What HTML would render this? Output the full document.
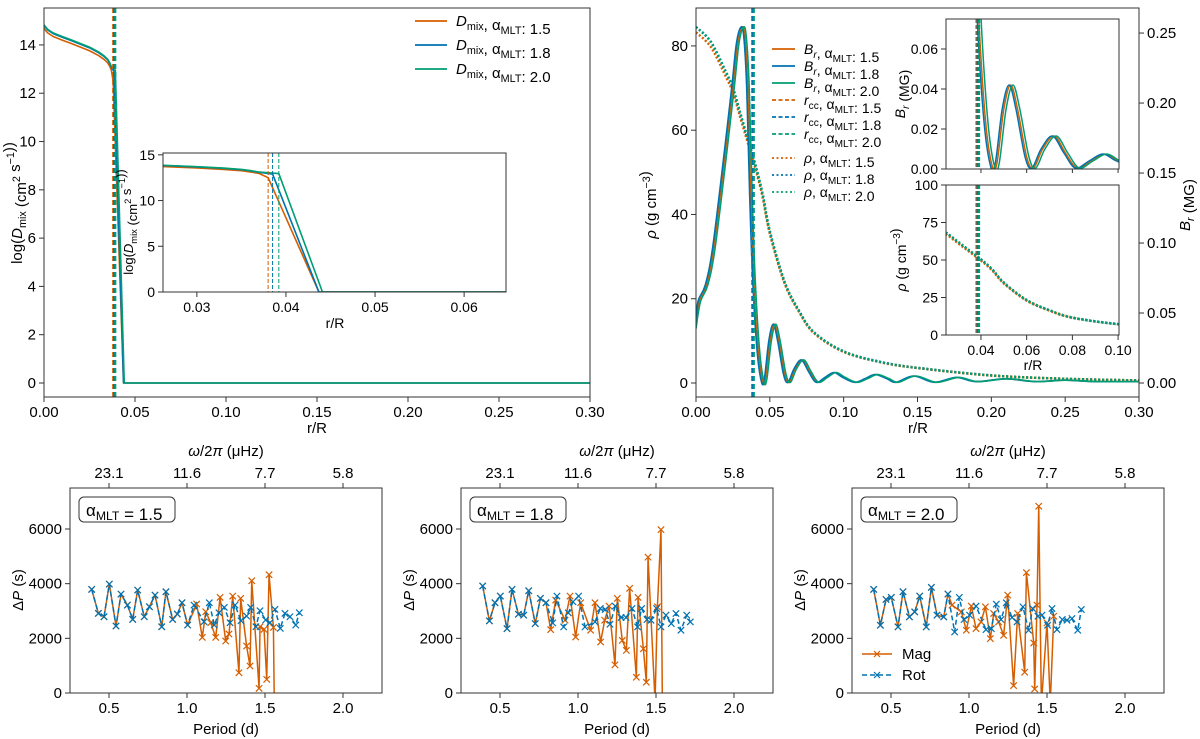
<!DOCTYPE html>
<html><head><meta charset="utf-8">
<style>
html,body{margin:0;padding:0;background:#fff;}
svg{display:block;font-family:"Liberation Sans","DejaVu Sans",sans-serif;}
</style></head>
<body>
<svg id="fig" width="1200" height="739" viewBox="0 0 1200 739" xmlns="http://www.w3.org/2000/svg">
<defs id="defs"></defs>
</svg>
<script>
// ---------- DATA ----------
const modelAlphas = ["1.5","1.8","2.0"];
const rccValues = [0.0380, 0.0385, 0.0392];
// D_mix profiles
const dmixR = [0,0.002,0.005,0.01,0.015,0.02,0.025,0.03,0.033,0.035,0.036,0.037];
const dmixBase = [14.8,14.62,14.47,14.32,14.18,14.03,13.88,13.68,13.52,13.38,13.25,13.08];
const dmixOffset = [-0.12,0.0,0.03];
const dmixKneeVal = [12.5,12.9,12.95];
const dmixZeroR = [0.0437,0.0437,0.0441];
// B_r profile (MG)
const brR = [0,0.002,0.007,0.012,0.02,0.025,0.028,0.031,0.033,0.035,0.037,0.039,0.042,0.045,0.047,0.050,0.053,0.056,0.060,0.063,0.067,0.072,0.077,0.082,0.088,0.094,0.100,0.108,0.115,0.122,0.130,0.136,0.148,0.162,0.177,0.19,0.21,0.23,0.25,0.27,0.3];
const brVal = [0.039,0.058,0.070,0.097,0.166,0.212,0.242,0.254,0.248,0.212,0.136,0.076,0.024,0.001,0.003,0.030,0.042,0.030,0.006,0.0005,0.010,0.0165,0.008,0.0005,0.004,0.0075,0.004,0.0005,0.003,0.006,0.003,0.0005,0.005,0.0005,0.004,0.001,0.003,0.001,0.002,0.001,0.001];
const brShift = [0.0,-0.0007,0.0010];
// density profile (g cm^-3)
const rhoR = [0,0.01,0.02,0.025,0.03,0.035,0.04,0.045,0.05,0.06,0.07,0.08,0.1,0.125,0.15,0.2,0.25,0.3];
const rhoVal = [84.5,81,74,70,64,58,52,45,36,24,17,12,7.5,5,3.6,1.8,1,0.6];
const rhoScale = [0.985,1.0,1.0];
// period spacings
const rotPeriod = [0.389,0.432,0.468,0.502,0.545,0.577,0.618,0.652,0.684,0.726,0.759,0.795,0.838,0.865,0.908,0.938,0.968,1.004,1.045,1.109,1.143,1.175,1.205,1.239,1.276,1.308,1.346,1.382,1.408,1.442,1.468,1.504,1.532,1.564,1.598,1.628,1.660,1.697,1.720];
const rotDP15 = [3790,2913,2791,3985,2450,3619,3217,2693,3766,2791,3156,3583,2425,3705,2693,2888,3302,2486,3217,2608,3302,2486,2937,3132,2571,3217,2644,2815,3132,2425,3010,2669,2571,3059,2364,2913,2791,2486,2937];
const rotDP18 = [3914,2638,3301,3546,2356,3791,2883,2847,3742,2540,3460,3301,2564,3546,2417,2932,3337,3546,2417,2601,3092,3055,2515,3178,2761,2761,3092,2417,3092,2687,2663,3092,2417,2847,2540,2908,2295,2847,2601];
const rotDP20 = [3791,2479,3423,3497,2417,3706,2785,2969,3546,2417,3865,2847,2785,3620,2233,3497,2687,2847,3178,2319,2356,3252,2687,3301,2761,2601,3153,2295,3092,2810,2847,2479,3092,2319,2687,2663,2724,2295,3055];
const magPeriod15 = [0.389,0.432,0.468,0.502,0.545,0.577,0.618,0.652,0.684,0.726,0.759,0.795,0.838,0.865,0.908,0.938,0.968,1.004,1.062,1.098,1.120,1.152,1.184,1.212,1.248,1.269,1.293,1.333,1.344,1.382,1.404,1.415,1.462,1.468,1.494,1.511,1.526,1.554,1.560];
const magDP15 = [3790,2913,2791,3985,2450,3619,3217,2693,3766,2791,3156,3583,2425,3705,2693,2888,3302,2486,3254,2035,2973,2571,2035,3498,1901,2157,3546,743,3461,1718,987,4107,171,2425,2328,500,4327,2400,-600];
const magPeriod18 = [0.389,0.432,0.468,0.502,0.545,0.577,0.618,0.652,0.684,0.726,0.759,0.795,0.825,0.857,0.917,0.949,0.985,1.017,1.081,1.109,1.145,1.171,1.199,1.237,1.252,1.284,1.310,1.331,1.374,1.385,1.419,1.438,1.449,1.494,1.509,1.532,1.541];
const magDP18 = [3914,2638,3301,3546,2356,3791,2883,2847,3742,2540,3460,3301,2319,3399,2663,3546,2049,3301,2295,3301,1865,2663,3178,1031,3460,1926,1558,3828,577,3497,1620,393,4969,-300,3154,5975,-600];
const magPeriod20 = [0.389,0.432,0.468,0.502,0.545,0.577,0.618,0.652,0.684,0.726,0.759,0.795,0.838,0.865,0.891,0.951,0.983,1.015,1.045,1.077,1.105,1.137,1.158,1.190,1.222,1.248,1.286,1.312,1.357,1.368,1.415,1.421,1.436,1.447,1.464,1.500,1.521,1.543];
const magDP20 = [3791,2479,3423,3497,2417,3706,2785,2969,3546,2417,3865,2847,2785,3620,3215,2969,2295,3178,2356,2601,3153,1988,2908,2601,2110,3583,270,2908,761,4405,1828,147,3215,6834,-400,2564,-400,2810];
const periodTicks = [0.5,1.0,1.5,2.0];
const freqTickLabels = ["23.1","11.6","7.7","5.8"];
const dpTicks = [0,2000,4000,6000];
const rTicks = [0,0.05,0.10,0.15,0.20,0.25,0.30];
const dmixTicks = [0,2,4,6,8,10,12,14];
const rhoTicks = [0,20,40,60,80];
const brTicks = [0,0.05,0.10,0.15,0.20,0.25];

const COLORS = ["#d55e00","#0072b2","#009e73"];
// ---------- HELPERS ----------
const NS = "http://www.w3.org/2000/svg";
const svg = document.getElementById("fig");
const defs = document.getElementById("defs");
let clipN = 0;
function el(tag, attrs, parent){
  const e = document.createElementNS(NS, tag);
  for (const k in attrs) e.setAttribute(k, attrs[k]);
  (parent || svg).appendChild(e);
  return e;
}
function axes(name, x0, x1, y0, y1, xlim, ylim){
  const g = el("g", {});
  
  
  clipN++;
  const cp = el("clipPath", {id: "c"+clipN}, defs);
  el("rect", {x:x0, y:y0, width:x1-x0, height:y1-y0}, cp);
  const plot = el("g", {"clip-path": "url(#c"+clipN+")"}, g);
  const X = v => x0 + (v - xlim[0]) / (xlim[1]-xlim[0]) * (x1-x0);
  const Y = v => y1 - (v - ylim[0]) / (ylim[1]-ylim[0]) * (y1-y0);
  return {g, plot, X, Y, x0, x1, y0, y1};
}
function frame(a){
  const f = el("rect", {x:a.x0, y:a.y0, width:a.x1-a.x0, height:a.y1-a.y0, fill:"none", stroke:"#333", "stroke-width":1}, a.g);
  
  
}
function txt(parent, x, y, s, size, anchor, rot){
  const t = el("text", {x:x, y:y, "font-size":size, "text-anchor":anchor||"middle", fill:"#000"}, parent);
  if (rot) t.setAttribute("transform", "rotate("+rot+" "+x+" "+y+")");
  t.innerHTML = s;
  return t;
}
function xTicks(a, ticks, labels, size, top){
  ticks.forEach((v,i)=>{
    const x = a.X(v);
    if (top){
      el("line", {x1:x, x2:x, y1:a.y0, y2:a.y0-5, stroke:"#333"}, a.g);
      const t = txt(a.g, x, a.y0-10, labels[i], size);
      
      
    } else {
      el("line", {x1:x, x2:x, y1:a.y1, y2:a.y1+5, stroke:"#333"}, a.g);
      const t = txt(a.g, x, a.y1+20, labels[i], size);
      
      
    }
  });
}
function yTicks(a, ticks, labels, size){
  ticks.forEach((v,i)=>{
    const y = a.Y(v);
    el("line", {x1:a.x0, x2:a.x0-5, y1:y, y2:y, stroke:"#333"}, a.g);
    const t = txt(a.g, a.x0-8, y+5, labels[i], size, "end");
    
    
  });
}
function poly(a, xs, ys, color, width, dash, name, Yf, smooth){
  const Yuse = Yf || a.Y;
  const P = xs.map((v,i)=>[a.X(v), Yuse(ys[i])]);
  let d;
  if (smooth){
    d = "M"+P[0][0].toFixed(2)+","+P[0][1].toFixed(2);
    for (let i=0;i<P.length-1;i++){
      const p0=P[Math.max(0,i-1)], p1=P[i], p2=P[i+1], p3=P[Math.min(P.length-1,i+2)];
      const c1=[p1[0]+(p2[0]-p0[0])/6, p1[1]+(p2[1]-p0[1])/6];
      const c2=[p2[0]-(p3[0]-p1[0])/6, p2[1]-(p3[1]-p1[1])/6];
      d += `C${c1[0].toFixed(2)},${c1[1].toFixed(2)} ${c2[0].toFixed(2)},${c2[1].toFixed(2)} ${p2[0].toFixed(2)},${p2[1].toFixed(2)}`;
    }
  } else {
    d = P.map((p,i)=>(i?"L":"M")+p[0].toFixed(2)+","+p[1].toFixed(2)).join(" ");
  }
  const p = el("path", {d:d, fill:"none", stroke:color, "stroke-width":width, "stroke-linejoin":"round"}, a.plot);
  if (dash) p.setAttribute("stroke-dasharray", dash);
  
  
  return p;
}
function vline(a, v, color, width, dash, name){
  const x = a.X(v);
  const l = el("line", {x1:x, x2:x, y1:a.y0, y2:a.y1, stroke:color, "stroke-width":width, "stroke-dasharray":dash}, a.plot);
  
  
}
function markers(a, xs, ys, color, name){
  xs.forEach((v,i)=>{
    const x = a.X(v), y = a.Y(ys[i]), s = 3.2;
    const m = el("path", {d:`M${x-s},${y-s}L${x+s},${y+s}M${x-s},${y+s}L${x+s},${y-s}`, stroke:color, "stroke-width":1.2}, a.plot);
    
    
  });
}
const sub = s => `<tspan font-size="72%" dy="4">${s}</tspan><tspan dy="-4"></tspan>`;
const sup = s => `<tspan font-size="72%" dy="-6">${s}</tspan><tspan dy="6"></tspan>`;
const aMLT = `α${sub("MLT")}`;
const fmt2 = v => v.toFixed(2);
const shiftR = (m) => brR.map(r=>r===0?0:r+brShift[m]);

// ---------- TOP LEFT: D_mix ----------
const tl = axes("dmix-panel", 44, 590, 8, 397, [0,0.3], [-0.58,15.53]);
function dmixProfile(m){
  const rs = dmixR.concat([rccValues[m], dmixZeroR[m], 0.3]);
  const vs = dmixBase.map(v=>v+dmixOffset[m]).concat([dmixKneeVal[m], 0, 0]);
  return [rs, vs];
}
[0,1,2].forEach(m=>{
  const [rs,vs] = dmixProfile(m);
  poly(tl, rs, vs, COLORS[m], 1.6, null, "dmix-line-"+modelAlphas[m]);
});
[0,1,2].forEach(m=> vline(tl, rccValues[m], COLORS[m], 2, "5,3", "rcc-line-"+modelAlphas[m]));
frame(tl);
xTicks(tl, rTicks, rTicks.map(fmt2), 15);
yTicks(tl, dmixTicks, dmixTicks.map(String), 15);
let t = txt(svg, 317, 433, "r/R", 15);  
t = txt(svg, 22, 203, `log(<tspan font-style="italic">D</tspan>${sub("mix")} (cm${sup("2")} s${sup("−1")}))`, 15, "middle", -90);
 
// legend
const lg1 = el("g", {});  
[0,1,2].forEach(m=>{
  const y = 21 + m*24;
  el("line", {x1:415, x2:447, y1:y, y2:y, stroke:COLORS[m], "stroke-width":1.8}, lg1);
  const tt = txt(lg1, 456, y+5, `<tspan font-style="italic">D</tspan>${sub("mix")}, ${aMLT}: ${modelAlphas[m]}`, 15, "start");
   
});
// inset
const tli = axes("dmix-inset", 163, 506, 153, 292, [0.0262,0.0647], [0,15.2]);
el("rect", {x:163,y:153,width:343,height:139,fill:"#fff"}, tli.plot);
[0,1,2].forEach(m=>{
  const [rs,vs] = dmixProfile(m);
  poly(tli, rs, vs, COLORS[m], 1.6, null, "inset-dmix-line-"+modelAlphas[m]);
});
[0,1,2].forEach(m=> vline(tli, rccValues[m], COLORS[m], 1, "4,2", "inset-rcc-line-"+modelAlphas[m]));
frame(tli);
xTicks(tli, [0.03,0.04,0.05,0.06], ["0.03","0.04","0.05","0.06"], 14);
yTicks(tli, [0,5,10,15], ["0","5","10","15"], 14);
t = txt(svg, 335, 328, "r/R", 14);  
t = txt(svg, 133, 222, `log(<tspan font-style="italic">D</tspan>${sub("mix")} (cm${sup("2")} s${sup("−1")}))`, 13, "middle", -90);
 

// ---------- TOP RIGHT: B_r and rho ----------
const tr = axes("br-rho-panel", 696, 1139, 8, 397, [0,0.3], [-3.32,89.0]);
const BrY = v => tr.y1 - (v + 0.0100)/(0.2679+0.0100)*(tr.y1-tr.y0);
[0,1,2].forEach(m=> poly(tr, rhoR, rhoVal.map(v=>v*rhoScale[m]), COLORS[m], 2.5, "2,2", "rho-line-"+modelAlphas[m], null, true));
[0,1,2].forEach(m=> poly(tr, shiftR(m), brVal, COLORS[m], 1.6, null, "br-line-"+modelAlphas[m], BrY, true));
[0,1,2].forEach(m=> vline(tr, rccValues[m], COLORS[m], 2, "5,3", "rcc-line-"+modelAlphas[m]));
frame(tr);
xTicks(tr, rTicks, rTicks.map(fmt2), 15);
yTicks(tr, rhoTicks, rhoTicks.map(String), 15);
brTicks.forEach(v=>{
  const y = BrY(v);
  el("line", {x1:tr.x1, x2:tr.x1+5, y1:y, y2:y, stroke:"#333"}, tr.g);
  const tt = txt(tr.g, tr.x1+8, y+5, v.toFixed(2), 15, "start");
   
});
t = txt(svg, 918, 433, "r/R", 15);  
t = txt(svg, 656, 205, `<tspan font-style="italic">ρ</tspan> (g cm${sup("−3")})`, 15, "middle", -90);
 
t = txt(svg, 1190, 205, `<tspan font-style="italic">B</tspan>${sub("<tspan font-style='italic'>r</tspan>")} (MG)`, 15, "middle", -90);
 
// legend
const lg2 = el("g", {});  
const legRows = [
  [49,"",`<tspan font-style="italic">B</tspan>${sub("<tspan font-style='italic'>r</tspan>")}`],
  [100,"4,2.5",`<tspan font-style="italic">r</tspan>${sub("cc")}`],
  [158,"2,2.5",`<tspan font-style="italic">ρ</tspan>`]
];
legRows.forEach(row=>{
  [0,1,2].forEach(m=>{
    const y = row[0] + m*17;
    const ln = el("line", {x1:772, x2:795, y1:y, y2:y, stroke:COLORS[m], "stroke-width":1.8}, lg2);
    if (row[1]) ln.setAttribute("stroke-dasharray", row[1]);
    const tt = txt(lg2, 804, y+5, `${row[2]}, ${aMLT}: ${modelAlphas[m]}`, 14, "start");
     
  });
});
// inset B_r
const tri1 = axes("br-inset", 946, 1119, 19, 169, [0.0247,0.1004], [0,0.075]);
el("rect", {x:946,y:19,width:173,height:150,fill:"#fff"}, tri1.plot);
[0,1,2].forEach(m=> poly(tri1, shiftR(m), brVal, COLORS[m], 1.5, null, "inset-br-line-"+modelAlphas[m], null, true));
[0,1,2].forEach(m=> vline(tri1, rccValues[m], COLORS[m], 2, "4,2", "inset-rcc-line-"+modelAlphas[m]));
frame(tri1);
[0.04,0.06,0.08,0.10].forEach(v=> el("line",{x1:tri1.X(v),x2:tri1.X(v),y1:169,y2:173,stroke:"#333"},tri1.g));
yTicks(tri1, [0,0.02,0.04,0.06], ["0.00","0.02","0.04","0.06"], 14);
t = txt(svg, 905, 94, `<tspan font-style="italic">B</tspan>${sub("<tspan font-style='italic'>r</tspan>")} (MG)`, 14, "middle", -90);
 
// inset rho
const tri2 = axes("rho-inset", 946, 1119, 185, 335, [0.0247,0.1004], [0,100]);
el("rect", {x:946,y:185,width:173,height:150,fill:"#fff"}, tri2.plot);
[0,1,2].forEach(m=> poly(tri2, rhoR, rhoVal.map(v=>v*rhoScale[m]*0.97), COLORS[m], 2.5, "2,2", "inset-rho-line-"+modelAlphas[m], null, true));
[0,1,2].forEach(m=> vline(tri2, rccValues[m], COLORS[m], 2, "4,2", "inset-rcc-line-"+modelAlphas[m]));
frame(tri2);
xTicks(tri2, [0.04,0.06,0.08,0.10], ["0.04","0.06","0.08","0.10"], 14);
yTicks(tri2, [0,25,50,75,100], ["0","25","50","75","100"], 14);
t = txt(svg, 1033, 370, "r/R", 14);  
t = txt(svg, 906, 260, `<tspan font-style="italic">ρ</tspan> (g cm${sup("−3")})`, 14, "middle", -90);
 

// ---------- BOTTOM: period spacing ----------
const bottomSets = [
  [70, "1.5", magPeriod15, magDP15, rotDP15],
  [461, "1.8", magPeriod18, magDP18, rotDP18],
  [852, "2.0", magPeriod20, magDP20, rotDP20]
];
bottomSets.forEach((s, i)=>{
  const a = axes("period-spacing-panel-"+s[1], s[0], s[0]+312, 488, 693, [0.25,2.25], [0,7500]);
  poly(a, s[2], s[3], COLORS[0], 1.5, null, "mag-line");
  markers(a, s[2], s[3], COLORS[0], "mag-marker");
  poly(a, rotPeriod, s[4], COLORS[1], 1.5, "5,3", "rot-line");
  markers(a, rotPeriod, s[4], COLORS[1], "rot-marker");
  frame(a);
  xTicks(a, periodTicks, periodTicks.map(v=>v.toFixed(1)), 15);
  xTicks(a, periodTicks, freqTickLabels, 15, true);
  yTicks(a, dpTicks, dpTicks.map(String), 15);
  let tt = txt(svg, s[0]+156, 734, "Period (d)", 15);  
  tt = txt(svg, s[0]+156, 456, `<tspan font-style="italic">ω</tspan>/2<tspan font-style="italic">π</tspan> (μHz)`, 15);  
  tt = txt(svg, s[0]-47, 590, `Δ<tspan font-style="italic">P</tspan> (s)`, 15, "middle", -90);  
  const box = el("rect", {x:s[0]+9, y:497, width:96, height:25, rx:5, fill:"#fff", stroke:"#333"}, a.g);
   
  tt = txt(a.g, s[0]+16, 516, `${aMLT} = ${s[1]}`, 17, "start");  
  if (i===2){
    const lg = el("g", {});  
    [["Mag",COLORS[0],null,654],["Rot",COLORS[1],"5,3",675]].forEach(r=>{
      const ln = el("line",{x1:862,x2:892,y1:r[3],y2:r[3],stroke:r[1],"stroke-width":1.5},lg);
      if (r[2]) ln.setAttribute("stroke-dasharray", r[2]);
      el("path",{d:`M874,${r[3]-3}L880,${r[3]+3}M874,${r[3]+3}L880,${r[3]-3}`,stroke:r[1],"stroke-width":1.2},lg);
      const lt = txt(lg, 902, r[3]+5, r[0], 15, "start");  
    });
  }
});
</script>
</body></html>
